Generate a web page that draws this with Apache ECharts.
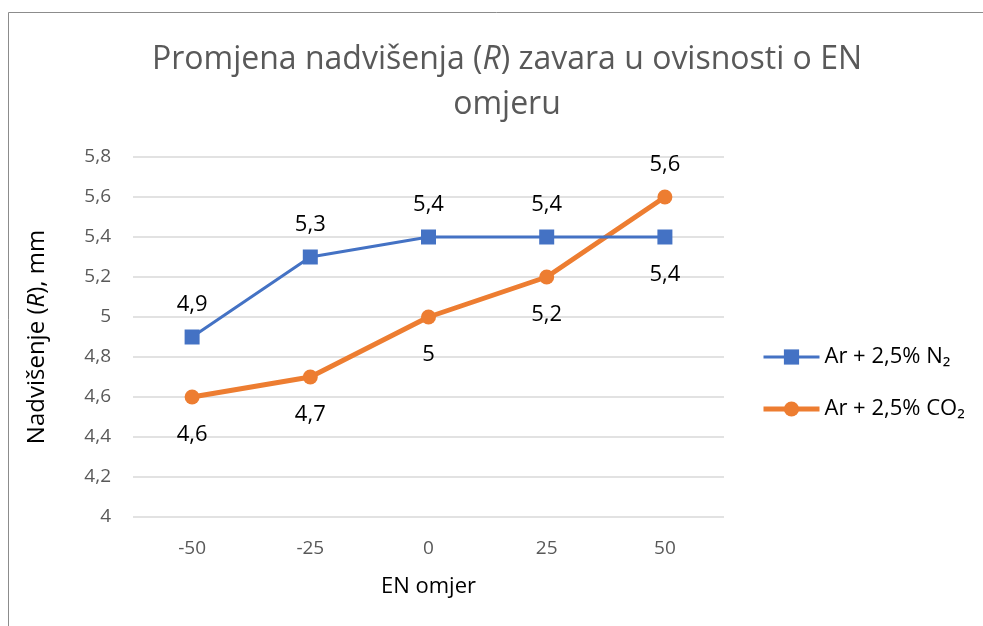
<!DOCTYPE html>
<html>
<head>
<meta charset="utf-8">
<script src="https://cdn.jsdelivr.net/npm/echarts@6/dist/echarts.min.js"></script>
<style>
  html, body { margin: 0; padding: 0; background: #fff; }
  #chart { width: 983px; height: 626px; }
</style>
</head>
<body>
<div id="chart"></div>
<script>
// EN ratio categories and weld reinforcement height (mm) per shielding gas
const categories = ['-50', '-25', '0', '25', '50'];
const seriesN2 = [4.9, 5.3, 5.4, 5.4, 5.4];
const seriesCO2 = [4.6, 4.7, 5.0, 5.2, 5.6];
const labelSideN2 = ['top', 'top', 'top', 'top', 'bottom'];
const labelSideCO2 = ['bottom', 'bottom', 'bottom', 'bottom', 'top'];
const yTicks = { min: 4, max: 5.8, step: 0.2 };

const FONT = '"Open Sans", "Noto Sans", sans-serif';
const fmt = v => String(Math.round(v * 10) / 10).replace('.', ',');

// labels below a point sit a little further away than labels above it
function withLabels(values, sides) {
  return values.map((v, i) => ({
    value: v,
    label: { position: sides[i], distance: sides[i] === 'top' ? 14 : 19 }
  }));
}

const chart = echarts.init(document.getElementById('chart'), null, { renderer: 'canvas' });

const labelStyle = {
  show: true,
  color: '#000',
  fontFamily: FONT,
  fontSize: 22,
  formatter: p => fmt(p.value)
};

chart.setOption({
  backgroundColor: '#fff',
  animation: false,
  graphic: [{
    type: 'rect',
    shape: { x: 8.5, y: 12.5, width: 1200, height: 1000 },
    style: { fill: 'none', stroke: '#8c8c8c', lineWidth: 1 },
    silent: true
  }],
  title: {
    text: '{t|Promjena nadvišenja (}{i|R}{t|) zavara u ovisnosti o EN}\n{t|omjeru}',
    left: 502,
    textAlign: 'center',
    top: 32,
    textStyle: {
      rich: {
        t: { fontFamily: FONT, fontSize: 32, fontWeight: 'normal', color: '#595959', lineHeight: 45 },
        i: { fontFamily: FONT, fontSize: 32, fontWeight: 'normal', color: '#595959', fontStyle: 'italic', lineHeight: 45 }
      }
    }
  },
  legend: {
    orient: 'vertical',
    left: 756,
    top: 339,
    itemWidth: 56,
    itemHeight: 19,
    itemGap: 26,
    textStyle: { fontFamily: FONT, fontSize: 22, lineHeight: 26, color: '#000' },
    data: [
      { name: 'Ar + 2,5% N₂', lineStyle: { width: 3 } },
      { name: 'Ar + 2,5% CO₂', lineStyle: { width: 5 } }
    ]
  },
  grid: { left: 133, right: 259, top: 157, bottom: 109 },
  xAxis: {
    type: 'category',
    data: categories,
    boundaryGap: true,
    axisLine: { show: false },
    axisTick: { show: false },
    axisLabel: { color: '#595959', fontFamily: FONT, fontSize: 19, margin: 22 },
    name: 'EN omjer',
    nameLocation: 'middle',
    nameGap: 59,
    nameTextStyle: { color: '#000', fontFamily: FONT, fontSize: 22 }
  },
  yAxis: {
    type: 'value',
    min: yTicks.min,
    max: yTicks.max,
    interval: yTicks.step,
    axisLine: { show: false },
    axisTick: { show: false },
    splitLine: { lineStyle: { color: '#d9d9d9', width: 1.5 } },
    axisLabel: { color: '#595959', fontFamily: FONT, fontSize: 19, margin: 22, formatter: v => fmt(v) },
    name: '{t|Nadvišenje (}{i|R}{t|), mm}',
    nameLocation: 'middle',
    nameGap: 84,
    nameTextStyle: {
      rich: {
        t: { fontFamily: FONT, fontSize: 24, color: '#000' },
        i: { fontFamily: FONT, fontSize: 24, color: '#000', fontStyle: 'italic' }
      }
    }
  },
  series: [
    {
      name: 'Ar + 2,5% N₂',
      type: 'line',
      data: withLabels(seriesN2, labelSideN2),
      symbol: 'rect',
      symbolSize: 15,
      itemStyle: { color: '#4472c4' },
      lineStyle: { color: '#4472c4', width: 3 },
      label: labelStyle,
      z: 3
    },
    {
      name: 'Ar + 2,5% CO₂',
      type: 'line',
      data: withLabels(seriesCO2, labelSideCO2),
      symbol: 'circle',
      symbolSize: 15,
      itemStyle: { color: '#ed7d31' },
      lineStyle: { color: '#ed7d31', width: 5 },
      label: labelStyle,
      z: 2
    }
  ]
});
</script>
</body>
</html>
